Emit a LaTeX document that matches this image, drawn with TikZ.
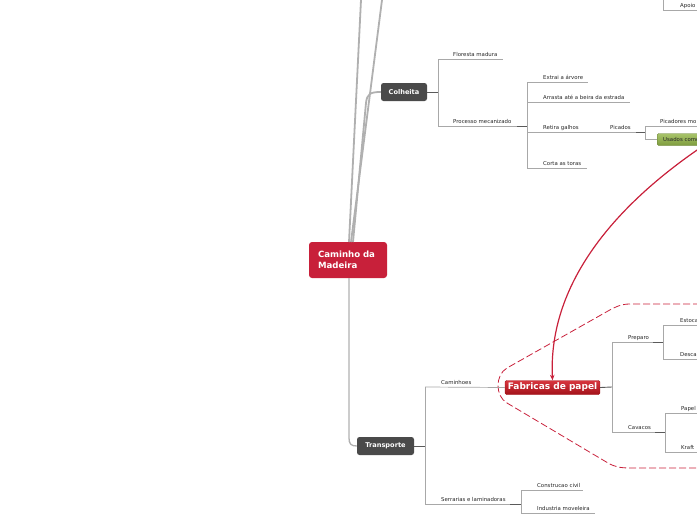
\documentclass[tikz,border=0pt]{standalone}
\usepackage{fontspec}
\setmainfont{DejaVu Sans}
\usetikzlibrary{arrows.meta}
\definecolor{mainred}{HTML}{C8203A}
\definecolor{darkbox}{HTML}{4A4A4A}
\definecolor{trunkgray}{HTML}{B0B0B0}
\definecolor{linegray}{HTML}{A8A8A8}
\definecolor{stubgray}{HTML}{5A5A5A}
\definecolor{greentop}{HTML}{A8C46A}
\definecolor{greenbot}{HTML}{7E9C3E}
\definecolor{fabtop}{HTML}{D8363E}
\definecolor{fabbot}{HTML}{A3121A}
\tikzset{
  leaf/.style={font=\fontsize{5.4}{6.5}\selectfont, text=black!85, inner sep=0pt, anchor=base west},
  branch/.style={draw=linegray, line width=0.7pt},
  stub/.style={draw=stubgray, line width=0.9pt},
  trunk/.style={draw=trunkgray, line width=1.8pt},
  topic/.style={fill=darkbox, rounded corners=2.5pt, text=white, font=\bfseries\fontsize{6.6}{8}\selectfont, minimum height=18pt, inner sep=0pt},
  centralbox/.style={fill=mainred, rounded corners=3pt, text=white, font=\bfseries\fontsize{8.6}{10.5}\selectfont, minimum width=78pt, minimum height=36pt, align=left, text width=60pt, inner sep=0pt},
  fabbox/.style={top color=fabtop, bottom color=fabbot, draw=fabbot, rounded corners=1.5pt, text=white, font=\bfseries\fontsize{9}{10}\selectfont, minimum width=95pt, minimum height=14pt, inner sep=0pt},
  greenbox/.style={top color=greentop, bottom color=greenbot, draw=greenbot!80!black, rounded corners=1.5pt, text=black!85, font=\fontsize{5.4}{6.5}\selectfont, minimum height=12pt, inner sep=0pt, anchor=west},
  redlink/.style={draw=mainred, line width=1.2pt},
  boundary/.style={draw=mainred, line width=0.8pt, dash pattern=on 7pt off 3pt}
}
\begin{document}
\begin{tikzpicture}[x=1pt,y=-1pt]
\useasboundingbox (0,0) rectangle (697,520);
\clip (0,0) rectangle (697,520);

% central node
\node[centralbox] (center) at (348,260) {Caminho da\\Madeira};

% main topics
\node[topic, minimum width=46pt] (colheita) at (404,92) {Colheita};
\node[topic, minimum width=57pt] (transporte) at (385.5,446) {Transporte};
\node[fabbox] (fab) at (552.5,387.5) {Fabricas de papel};

% trunks from the centre
\coordinate (up1) at (361,0);
\coordinate (up2) at (382,0);
\coordinate (c1) at (349,242);
\coordinate (c2) at (351,242);
\coordinate (c3) at (353,242);
\coordinate (c4) at (349,278);
\draw[trunk] (c1) -- (up1);
\draw[trunk] (c2) -- (up2);
\draw[trunk] (c3) -- (366,103) .. controls (367,94) and (370,92) .. (colheita.west);
\draw[trunk, line width=1.3pt] (c4) -- (349,438) .. controls (349,444) and (351,446) .. (transporte.west);

% ---------------- Colheita branch
\coordinate (jc) at (438,92);
\draw[stub] (colheita.east) -- (jc);
\draw[branch] (438,59) -- (438,126);
\node[leaf] (floresta) at (453,56) {Floresta madura};
\node[leaf] (processo) at (453,123) {Processo mecanizado};
\coordinate (florestaEnd) at (503,59);
\coordinate (processoEnd) at (517,126);
\coordinate (jp) at (527,126);
\draw[branch] (438,59) -- (florestaEnd);
\draw[branch] (438,126) -- (processoEnd);
\draw[stub] (processoEnd) -- (jp);
\draw[branch] (527,82) -- (527,168);

\node[leaf] (extrai) at (543,79) {Extrai a árvore};
\node[leaf] (arrasta) at (543,99) {Arrasta até a beira da estrada};
\node[leaf] (retira) at (543,129) {Retira galhos};
\node[leaf] (corta) at (543,165) {Corta as toras};
\draw[branch] (527,82) -- (588,82);
\draw[branch] (527,102) -- (630,102);
\draw[branch] (527,168) -- (587,168);

\node[leaf] (picados) at (610,129) {Picados};
\coordinate (jr) at (645,132);
\draw[branch] (527,132) -- (636,132);
\draw[stub] (636,132) -- (jr);
\draw[branch] (645,126) -- (645,139);
\node[leaf] (picadores) at (660,123) {Picadores mo};
\draw[branch] (645,126) -- (700,126);
\node[greenbox, minimum width=50pt, align=left, text width=46pt] (usados) at (657,139.5) {\hspace*{4pt}Usados como};
\draw[branch] (645,139.5) -- (usados.west);

% Apoio (cut at the top)
\node[leaf] (apoio) at (680,7) {Apoio};
\draw[branch] (663,-2) -- (663,10) -- (700,10);

% ---------------- red link from "Usados como" to Fabricas de papel
\coordinate (linkstart) at (712,140);
\draw[redlink, -{Stealth[length=5.5pt,width=4.5pt]}] (linkstart) .. controls (620,200) and (548,280) .. (fab.north);

% ---------------- boundary round Fabricas de papel
\draw[boundary] (700,304) -- (630,304) .. controls (621,304) and (615,307) .. (608,311)
  -- (507,368) .. controls (495,375) and (495,396) .. (507,403)
  -- (608,463) .. controls (615,467) and (621,468) .. (630,468) -- (700,468);

% ---------------- Transporte branch
\coordinate (jt) at (425,446);
\draw[stub] (transporte.east) -- (jt);
\draw[branch] (425,387) -- (425,504);
\node[leaf] (caminhoes) at (441,384) {Caminhoes};
\draw[branch] (425,387) -- (fab.west);
\node[leaf] (serrarias) at (441,501) {Serrarias e laminadoras};
\coordinate (serrEnd) at (510,504);
\draw[branch] (425,504) -- (serrEnd);
\draw[stub] (serrEnd) -- (521,504);
\draw[branch] (521,490) -- (521,513);
\node[leaf] (construcao) at (537,487) {Construcao civil};
\node[leaf] (industria) at (537,510) {Industria moveleira};
\draw[branch] (521,490) -- (583,490);
\draw[branch] (521,513) -- (595,513);

% ---------------- Fabricas de papel branch
\coordinate (jf) at (612,387);
\draw[stub] (fab.east) -- (jf);
\draw[branch] (612,342) -- (612,432);
\node[leaf] (preparo) at (628,339) {Preparo};
\node[leaf] (cavacos) at (628,429) {Cavacos};
\draw[branch] (612,342) -- (653,342);
\draw[stub] (653,342) -- (663,342);
\draw[branch] (612,432) -- (655,432);
\draw[stub] (655,432) -- (665,432);
\draw[branch] (663,325) -- (663,359);
\draw[branch] (663,325) -- (700,325);
\draw[branch] (663,359) -- (700,359);
\node[leaf] (estoca) at (680,322) {Estoca};
\node[leaf] (desca) at (680,356) {Desca};
\draw[branch] (665,413) -- (665,452);
\draw[branch] (665,413) -- (700,413);
\draw[branch] (665,452) -- (700,452);
\node[leaf] (papel) at (681,410) {Papel};
\node[leaf] (kraft) at (681,449) {Kraft};
\end{tikzpicture}
\end{document}
